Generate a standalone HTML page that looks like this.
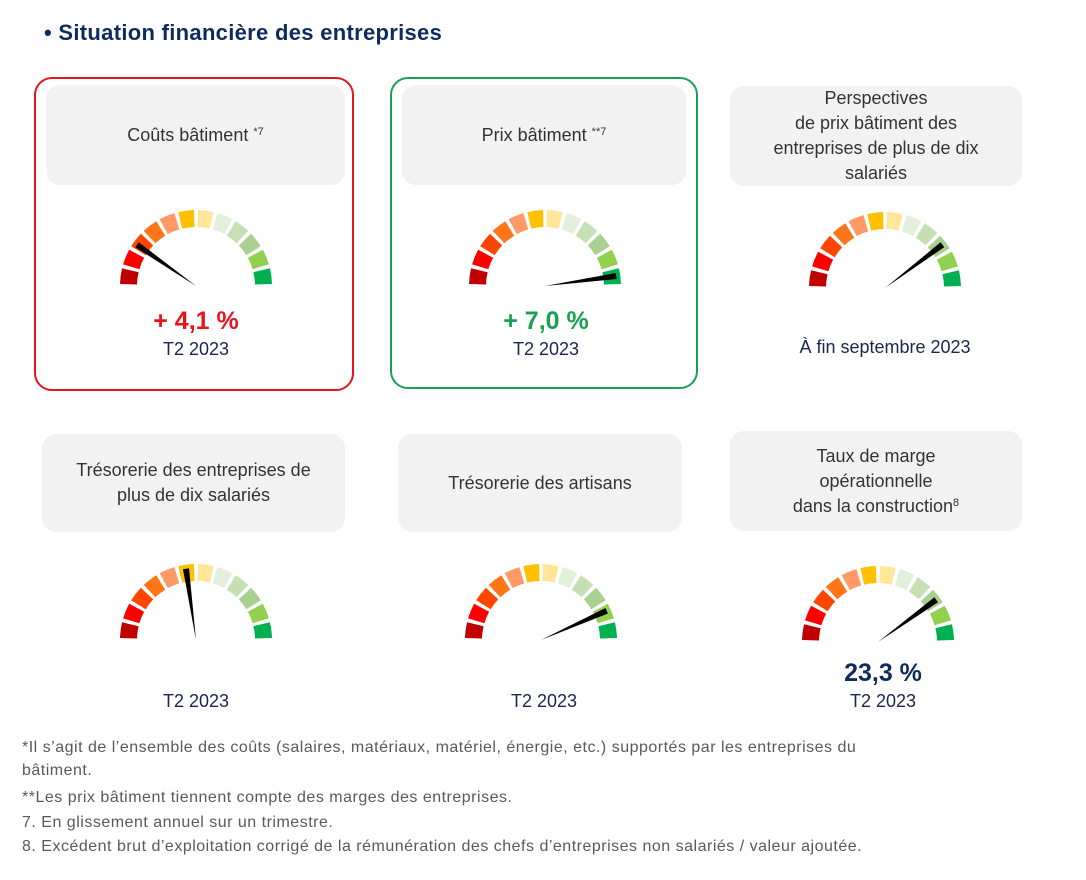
<!DOCTYPE html><html><head><meta charset="utf-8"><style>
body{margin:0;width:1086px;height:880px;background:#fff;font-family:"Liberation Sans",sans-serif;position:relative;overflow:hidden;color:#1a2550}
.a{position:absolute}
.box{position:absolute;background:#f2f2f2;border-radius:14px;display:flex;align-items:center;justify-content:center;text-align:center;font-size:18px;line-height:25px;color:#333}
.c{position:absolute;text-align:center;font-size:18px}
.fn{position:absolute;left:22px;font-size:16px;letter-spacing:0.5px;color:#595959}
sup{font-size:11px;vertical-align:6px;line-height:0}
</style></head><body>
<div class="a" style="left:44px;top:20px;font-size:22px;font-weight:bold;color:#0f2a5e;letter-spacing:0.3px">• Situation financière des entreprises</div>
<div class="a" style="left:34px;top:77px;width:316px;height:310px;border:2px solid #e8141c;border-radius:18px"></div>
<div class="a" style="left:390px;top:77px;width:304px;height:308px;border:2px solid #1aa251;border-radius:18px"></div>
<div class="box" style="left:46px;top:85px;width:299px;height:100px"><div>Coûts bâtiment <sup>*7</sup></div></div>
<div class="box" style="left:402px;top:85px;width:284px;height:100px"><div>Prix bâtiment <sup>**7</sup></div></div>
<div class="box" style="left:730px;top:86px;width:292px;height:100px"><div>Perspectives<br>de prix bâtiment des<br>entreprises de plus de dix<br>salariés</div></div>
<div class="box" style="left:42px;top:434px;width:303px;height:98px"><div>Trésorerie des entreprises de<br>plus de dix salariés</div></div>
<div class="box" style="left:398px;top:434px;width:284px;height:98px"><div>Trésorerie des artisans</div></div>
<div class="box" style="left:730px;top:431px;width:292px;height:100px"><div>Taux de marge<br>opérationnelle<br>dans la construction<sup>8</sup></div></div>
<svg id="g" class="a" style="left:0;top:0" width="1086" height="880"></svg>
<div class="c" style="left:96px;top:307px;width:200px;font-size:25px;font-weight:bold;color:#e8141c">+ 4,1 %</div>
<div class="c" style="left:96px;top:339px;width:200px">T2 2023</div>
<div class="c" style="left:446px;top:307px;width:200px;font-size:25px;font-weight:bold;color:#1aa251">+ 7,0 %</div>
<div class="c" style="left:446px;top:339px;width:200px">T2 2023</div>
<div class="c" style="left:770px;top:337px;width:230px">À fin septembre 2023</div>
<div class="c" style="left:96px;top:691px;width:200px">T2 2023</div>
<div class="c" style="left:444px;top:691px;width:200px">T2 2023</div>
<div class="c" style="left:783px;top:659px;width:200px;font-size:25px;font-weight:bold;color:#0f2a5e">23,3 %</div>
<div class="c" style="left:783px;top:691px;width:200px">T2 2023</div>
<div class="fn" style="top:736px;line-height:23px">*Il s’agit de l’ensemble des coûts (salaires, matériaux, matériel, énergie, etc.) supportés par les entreprises du<br>bâtiment.</div>
<div class="fn" style="top:789px">**Les prix bâtiment tiennent compte des marges des entreprises.</div>
<div class="fn" style="top:814px">7. En glissement annuel sur un trimestre.</div>
<div class="fn" style="top:838px">8. Excédent brut d’exploitation corrigé de la rémunération des chefs d’entreprises non salariés / valeur ajoutée.</div>
<script>
var cols=["#c00000","#ff0000","#ff4500","#ff7518","#ff9966","#ffc000","#ffe699","#e2efda","#c6e0b4","#a9d08e","#92d050","#00b050"];
var G=[[196,286,145],[545,286,8],[885,288,37],[196,640,98],[541,640,24],[878,642,36]];
var s="",R=76,r=59,d=Math.PI/180;
function p(a,rr,cx,cy){return (cx+rr*Math.cos(a*d)).toFixed(1)+","+(cy-rr*Math.sin(a*d)).toFixed(1)}
G.forEach(function(g){var cx=g[0],cy=g[1];
for(var i=0;i<12;i++){var a0=180-i*15-1.5,a1=180-(i+1)*15+1.5;
s+='<path fill="'+cols[i]+'" d="M'+p(a0,R,cx,cy)+' A'+R+','+R+' 0 0 1 '+p(a1,R,cx,cy)+' L'+p(a1,r,cx,cy)+' A'+r+','+r+' 0 0 0 '+p(a0,r,cx,cy)+'Z"/>';}
var a=g[2];s+='<polygon fill="#000" points="'+p(a,0,cx,cy)+' '+p(a+2.4,72,cx,cy)+' '+p(a-2.4,72,cx,cy)+'"/>';});
document.getElementById("g").innerHTML=s;
</script>
</body></html>
